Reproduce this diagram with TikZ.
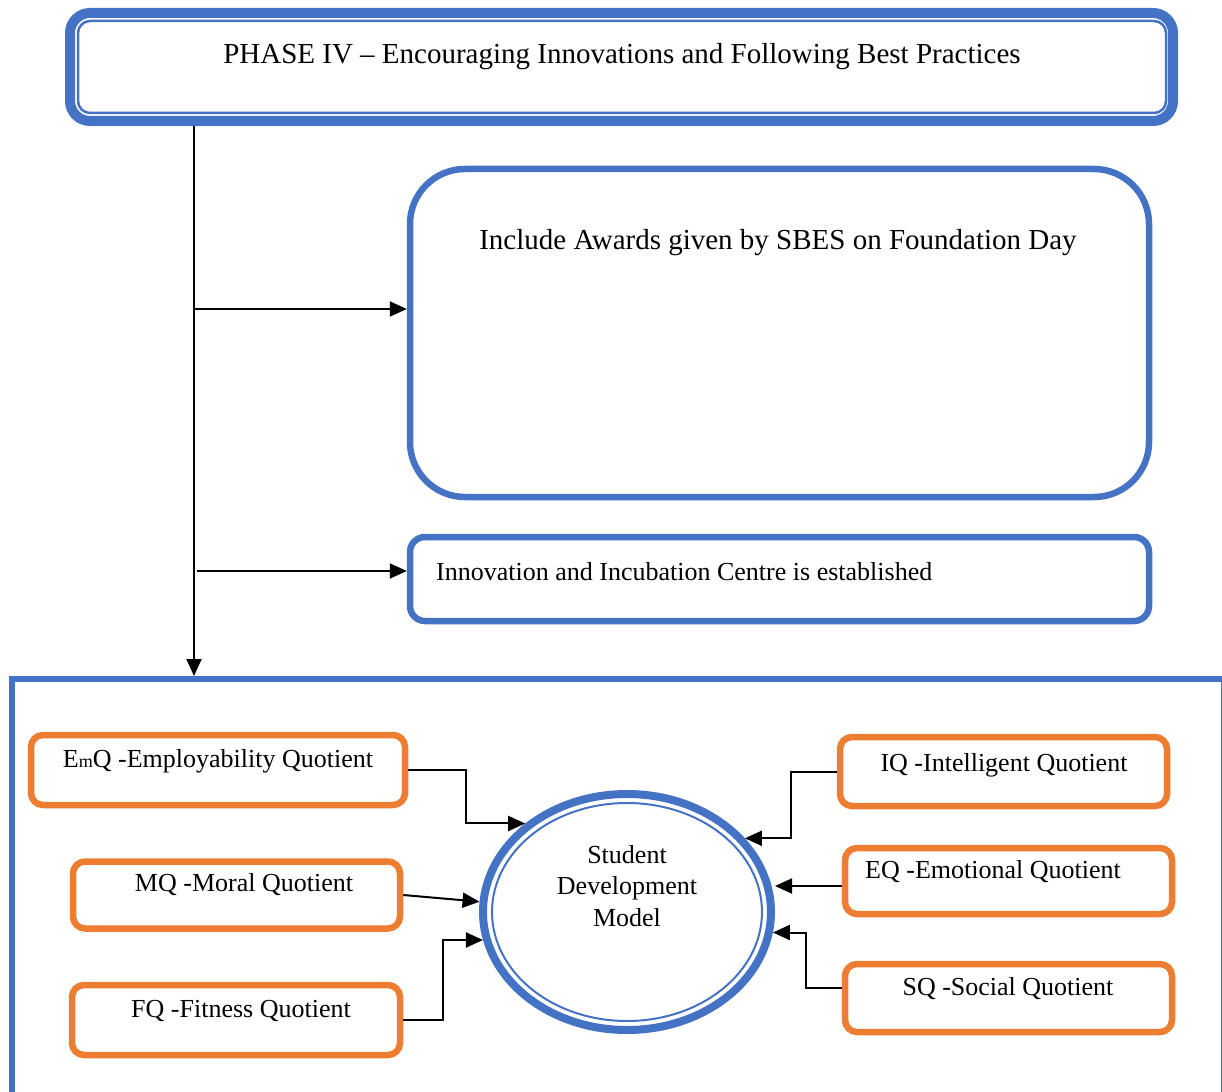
\documentclass[tikz,border=0pt]{standalone}
\usepackage{fontspec}
\setmainfont{Liberation Serif}
\usetikzlibrary{arrows.meta,shapes.geometric}
\definecolor{boxblue}{HTML}{4472C4}
\definecolor{boxorange}{HTML}{ED7D31}
\newcommand{\bigtext}{\fontsize{29}{35}\selectfont}
\newcommand{\smalltext}{\fontsize{26}{31.5}\selectfont}

\begin{document}
\begin{tikzpicture}[x=1pt,y=-1pt,
  bluebox/.style={draw=boxblue, line width=6.5pt, rounded corners=#1, inner sep=0pt},
  quotbox/.style={draw=boxorange, line width=6.5pt, rounded corners=12pt, inner sep=0pt},
  txt/.style={inner sep=0pt, font=\smalltext},
  conn/.style={line width=2pt, -{Triangle[length=17pt,width=15pt]}}
]
\clip (0,0) rectangle (1222,1091);

% outer frame of the model (bottom edge runs off the page)
\node[draw=boxblue, line width=6pt, inner sep=0pt, minimum width=1212pt, minimum height=431pt] (main) at (618,894.5) {};

% phase heading with thick-thin border
\node[bluebox=20pt, line width=10pt, minimum width=1103pt, minimum height=108pt] (phase) at (621.5,67) {};
\draw[boxblue, line width=2.5pt, rounded corners=12pt]
  ([shift={(13,13)}]phase.north west) rectangle ([shift={(-12,-13)}]phase.south east);
\node[txt, font=\bigtext, anchor=base] (phasetext) at (622,64)
  {PHASE IV – Encouraging Innovations and Following Best Practices};

% activity boxes
\node[bluebox=55pt, minimum width=739pt, minimum height=328pt] (awards) at (779.5,333) {};
\node[txt, font=\bigtext, anchor=base] (awardstext) at (778,250)
  {Include Awards given by SBES on Foundation Day};

\node[bluebox=15pt, minimum width=739pt, minimum height=84pt] (innov) at (779.5,579) {};
\node[txt, anchor=base west] (innovtext) at (436,580)
  {Innovation and Incubation Centre is established};

% trunk and branches
\coordinate (tx) at (194,0);
\coordinate (b1) at (194,309);
\coordinate (b2) at (197,571);
\draw[conn] (tx |- phase.south) -- (tx |- main.north);
\draw[conn] (b1) -- (b1 -| awards.west);
\draw[conn] (b2) -- (b2 -| innov.west);

% central ellipse
\node[ellipse, draw=boxblue, line width=8pt, minimum width=288pt, minimum height=236pt, inner sep=0pt] (sdm) at (627,912) {};
\draw[boxblue, line width=2pt] (sdm.center) ellipse [x radius=135pt, y radius=109pt];
\node[txt, align=center] (sdmtext) at (627,886) {Student\\Development\\Model};

% quotient boxes
\node[quotbox, minimum width=374pt, minimum height=70pt] (emq) at (218,770) {};
\node[txt, anchor=base] (emqtext) at (218,767)
  {E{\fontsize{18}{18}\selectfont m}Q -Employability Quotient};

\node[quotbox, minimum width=327pt, minimum height=67pt] (mq) at (236.5,895) {};
\node[txt, anchor=base] (mqtext) at (244,891) {MQ -Moral Quotient};

\node[quotbox, minimum width=328pt, minimum height=70pt] (fq) at (236,1020) {};
\node[txt, anchor=base] (fqtext) at (241,1017) {FQ -Fitness Quotient};

\node[quotbox, minimum width=327pt, minimum height=69pt] (iq) at (1003.5,771.5) {};
\node[txt, anchor=base] (iqtext) at (1004,771) {IQ -Intelligent Quotient};

\node[quotbox, minimum width=327pt, minimum height=66pt] (eq) at (1008.5,881) {};
\node[txt, anchor=base] (eqtext) at (993,878) {EQ -Emotional Quotient};

\node[quotbox, minimum width=327pt, minimum height=68pt] (sq) at (1008.5,998) {};
\node[txt, anchor=base] (sqtext) at (1008,995) {SQ -Social Quotient};

% connectors into the model
\draw[conn] (emq.east) -- ++(58,0) |- (sdm.139);
\draw[conn] (mq.east) -- (sdm.176);
\draw[conn] (fq.east) -- ++(40,0) |- (sdm.191);
\draw[conn] (iq.west) -- ++(-46,0) |- (sdm.32);
\draw[conn] ([yshift=-5pt]eq.west) -- ([yshift=-5pt]eq.west -| sdm.east);
\draw[conn] ([yshift=10pt]sq.west) -- ++(-36,0) |- (sdm.-8);
\end{tikzpicture}
\end{document}
